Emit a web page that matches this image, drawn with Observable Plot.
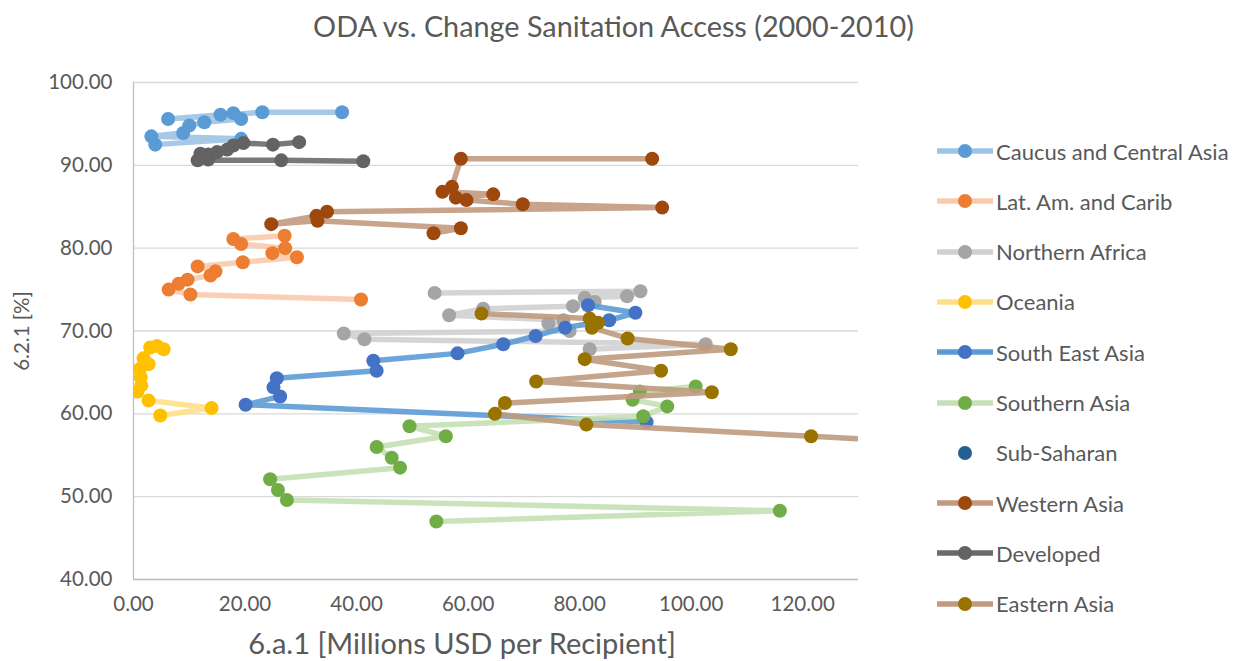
<!DOCTYPE html>
<html>
<head>
<meta charset="utf-8">
<script src="https://cdn.jsdelivr.net/npm/d3@7"></script>
<script src="https://cdn.jsdelivr.net/npm/@observablehq/plot@0.6"></script>
<style>
  body { margin: 0; background: #fff; }
  #wrap { position: relative; width: 1237px; height: 661px; overflow: hidden; font-family: Lato, "Open Sans", sans-serif; color: #595959; }
  #chart { position: absolute; left: 0; top: 0; }
  .title { position: absolute; left: -5px; width: 1237px; top: 11px; text-align: center; font-size: 28.8px; line-height: 30px; white-space: nowrap; }
  .xlabel { position: absolute; left: 212px; width: 500px; top: 628px; text-align: center; font-size: 29px; line-height: 29px; white-space: nowrap; }
  .ylabel { position: absolute; left: 21px; top: 331px; transform: translate(-50%, -50%) rotate(-90deg); font-size: 20.5px; line-height: 24px; white-space: nowrap; }
  .legend { position: absolute; left: 937px; top: 0; }
  .item { position: absolute; left: 0; height: 24px; display: flex; align-items: center; font-size: 22px; white-space: nowrap; }
  .item svg { margin-right: 3px; }
</style>
</head>
<body>
<div id="wrap">
  <div id="chart"></div>
  <div class="title">ODA vs. Change Sanitation Access (2000-2010)</div>
  <div class="ylabel">6.2.1 [%]</div>
  <div class="xlabel">6.a.1 [Millions USD per Recipient]</div>
  <div class="legend" id="legend"></div>
</div>
<script>
// Region names, in legend order
const regions = [
  "Caucus and Central Asia", "Lat. Am. and Carib", "Northern Africa", "Oceania",
  "South East Asia", "Southern Asia", "Sub-Saharan", "Western Asia", "Developed", "Eastern Asia"
];

// ODA per recipient (millions USD) and sanitation access (%), year by year
const caucusOda = [37.4, 23.1, 6.2, 15.6, 17.9, 19.3, 12.7, 10.0, 8.9, 3.2, 19.3, 3.9];
const caucusSan = [96.4, 96.4, 95.6, 96.1, 96.3, 95.6, 95.2, 94.8, 93.9, 93.5, 93.2, 92.5];

const latAmOda = [27.1, 17.9, 19.3, 27.2, 24.9, 29.3, 19.6, 11.5, 14.7, 13.8, 9.7, 8.1, 6.3, 10.2, 40.8];
const latAmSan = [81.5, 81.1, 80.5, 80.0, 79.4, 78.9, 78.3, 77.8, 77.2, 76.7, 76.2, 75.7, 75.0, 74.4, 73.8];

const nAfricaOda = [54.0, 90.9, 88.5, 80.9, 82.7, 78.8, 62.7, 56.6, 77.1, 74.4, 78.2, 37.7, 41.4, 102.6, 81.8];
const nAfricaSan = [74.6, 74.8, 74.2, 74.0, 73.5, 73.0, 72.7, 71.9, 71.3, 70.9, 70.0, 69.7, 69.0, 68.4, 67.8];

const oceaniaOda = [5.4, 4.2, 3.0, 1.8, 2.7, 1.1, 1.3, 1.4, 0.7, 2.7, 14.0, 4.8];
const oceaniaSan = [67.8, 68.2, 68.0, 66.7, 66.0, 65.4, 64.4, 63.4, 62.7, 61.6, 60.7, 59.8];

const seAsiaOda = [81.5, 90.0, 85.3, 77.4, 72.1, 66.3, 58.1, 43.0, 43.6, 25.7, 25.1, 26.3, 20.1, 92.0];
const seAsiaSan = [73.1, 72.2, 71.3, 70.4, 69.4, 68.4, 67.3, 66.4, 65.2, 64.3, 63.2, 62.1, 61.1, 59.0];

const sAsiaOda = [100.8, 90.8, 89.5, 95.7, 91.4, 49.5, 56.0, 43.6, 46.3, 47.8, 24.5, 25.9, 27.5, 115.9, 54.3];
const sAsiaSan = [63.3, 62.7, 61.7, 60.9, 59.7, 58.5, 57.3, 56.0, 54.7, 53.5, 52.1, 50.8, 49.6, 48.3, 47.0];

const subSaharanOda = [];
const subSaharanSan = [];

const wAsiaOda = [93.0, 58.7, 57.1, 55.4, 64.5, 57.8, 59.7, 69.8, 94.8, 34.7, 32.8, 24.7, 33.0, 58.7, 53.8];
const wAsiaSan = [90.8, 90.8, 87.4, 86.8, 86.5, 86.1, 85.8, 85.3, 84.9, 84.4, 83.9, 82.9, 83.3, 82.4, 81.8];

const developedOda = [41.2, 26.5, 11.5, 13.4, 12.0, 13.4, 15.0, 16.8, 17.9, 19.7, 25.0, 29.7];
const developedSan = [90.5, 90.6, 90.6, 90.7, 91.4, 91.3, 91.6, 91.9, 92.4, 92.7, 92.5, 92.8];

const eAsiaOda = [62.4, 81.8, 83.3, 82.2, 88.6, 107.1, 80.9, 94.6, 72.2, 103.7, 66.6, 64.8, 81.2, 121.5, 152.0];
const eAsiaSan = [72.1, 71.5, 71.0, 70.4, 69.1, 67.8, 66.6, 65.2, 63.9, 62.6, 61.3, 60.0, 58.7, 57.3, 56.2];

// Axis ticks
const xTicks = [0, 20, 40, 60, 80, 100, 120];
const yTicks = [40, 50, 60, 70, 80, 90, 100];

// Marker colour and connecting-line colour per region
const markerColors = ["#5b9bd5", "#ed7d31", "#a5a5a5", "#ffc000", "#4472c4", "#70ad47", "#255e91", "#9e480e", "#636363", "#997300"];
const lineColors   = ["#9dc3e6", "#f8cbad", "#d0d0d0", "#ffe08a", "#5b9bd5", "#c5e0b4", null, "#c39a80", "#6a6a6a", "#bf9a80"];

const seriesOda = [caucusOda, latAmOda, nAfricaOda, oceaniaOda, seAsiaOda, sAsiaOda, subSaharanOda, wAsiaOda, developedOda, eAsiaOda];
const seriesSan = [caucusSan, latAmSan, nAfricaSan, oceaniaSan, seAsiaSan, sAsiaSan, subSaharanSan, wAsiaSan, developedSan, eAsiaSan];

const series = regions.map((name, i) => ({
  name,
  marker: markerColors[i],
  line: lineColors[i],
  rows: seriesOda[i].map((oda, j) => ({oda, san: seriesSan[i][j]}))
}));

const fmt = d => d.toFixed(2);

// Each region: its connecting line first, then its markers on top
const seriesMarks = series.flatMap(s => [
  s.line ? Plot.line(s.rows, {x: "oda", y: "san", stroke: s.line, strokeWidth: 5.5, strokeOpacity: 0.9, clip: true}) : null,
  Plot.dot(s.rows, {x: "oda", y: "san", r: 7, fill: s.marker, stroke: null, clip: true})
]).filter(Boolean);

const chart = Plot.plot({
  width: 1237,
  height: 661,
  marginLeft: 133,
  marginRight: 379,
  marginTop: 82,
  marginBottom: 82,
  x: {domain: [0, 130]},
  y: {domain: [40, 100]},
  style: {fontFamily: "Lato, 'Open Sans', sans-serif", fontSize: "20.5px", color: "#595959", background: "white", overflow: "visible"},
  marks: [
    Plot.gridY(yTicks, {stroke: "#d9d9d9", strokeOpacity: 1, strokeWidth: 1.3}),
    Plot.ruleY([yTicks[0]], {stroke: "#bfbfbf", strokeWidth: 1.3}),
    Plot.ruleX([xTicks[0]], {stroke: "#bfbfbf", strokeWidth: 1.3}),
    Plot.axisY(yTicks, {tickSize: 0, tickPadding: 21, tickFormat: fmt, label: null, fill: "#595959"}),
    Plot.axisX(xTicks, {tickSize: 0, tickPadding: 17, tickFormat: fmt, label: null, fill: "#595959"}),
    ...seriesMarks
  ]
});
document.getElementById("chart").appendChild(chart);

// Legend
const legend = document.getElementById("legend");
series.forEach((s, i) => {
  const item = document.createElement("div");
  item.className = "item";
  item.style.top = (139 + i * 50.3) + "px";
  const line = s.line ? `<line x1="0" y1="12" x2="56" y2="12" stroke="${s.line}" stroke-width="5.5"/>` : "";
  item.innerHTML = `<svg width="56" height="24">${line}<circle cx="28" cy="12" r="7" fill="${s.marker}"/></svg><span>${s.name}</span>`;
  legend.appendChild(item);
});
</script>
</body>
</html>
